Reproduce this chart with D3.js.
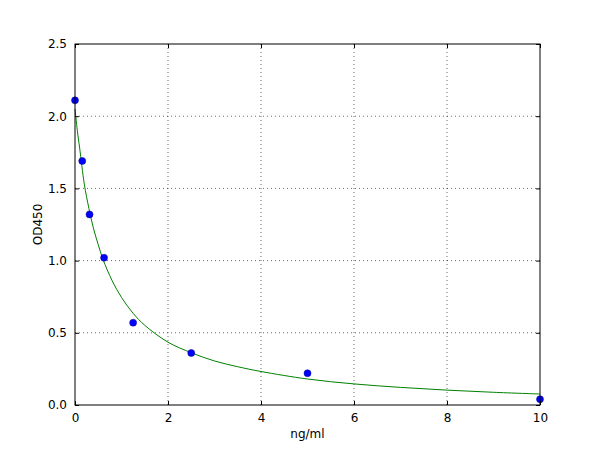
<!DOCTYPE html>
<html>
<head>
<meta charset="utf-8">
<script src="https://cdn.jsdelivr.net/npm/d3@7"></script>
<style>
  body { margin: 0; background: #fff; }
  text { font-family: "DejaVu Sans", sans-serif; }
</style>
</head>
<body>
<svg id="chart" width="600" height="450"></svg>
<script>
// standards measured
const concX = [0, 0.156, 0.3125, 0.625, 1.25, 2.5, 5, 10];
const odY = [2.11, 1.69, 1.32, 1.02, 0.57, 0.36, 0.22, 0.04];

// fitted curve
const fitX = [0, 0.05, 0.1, 0.2, 0.3, 0.4, 0.5, 0.6, 0.8, 1.0, 1.25, 1.5, 2, 2.5, 3, 3.5, 4, 5, 6, 7, 8, 9, 10];
const fitY = [2.05, 1.90, 1.78, 1.53, 1.36, 1.22, 1.11, 1.01, 0.86, 0.745, 0.635, 0.552, 0.435, 0.362, 0.305, 0.265, 0.232, 0.18, 0.146, 0.122, 0.103, 0.088, 0.076];

const xTicks = [0, 2, 4, 6, 8, 10];
const yTicks = [0, 0.5, 1.0, 1.5, 2.0, 2.5];

const svg = d3.select("#chart");
const m = { left: 75, right: 60, top: 44, bottom: 45 };
const W = 600, H = 450;

const x = d3.scaleLinear().domain([0, 10]).range([m.left, W - m.right]);
const y = d3.scaleLinear().domain([0, 2.5]).range([H - m.bottom, m.top]);

// grid
const grid = svg.append("g");
grid.selectAll(".gx").data(xTicks.slice(1, -1)).enter().append("line")
    .attr("x1", d => x(d)).attr("x2", d => x(d))
    .attr("y1", y(0)).attr("y2", y(2.5))
    .attr("stroke", "#000").attr("stroke-width", 0.6).attr("stroke-dasharray", "1,3");
grid.selectAll(".gy").data(yTicks.slice(1, -1)).enter().append("line")
    .attr("x1", x(0)).attr("x2", x(10))
    .attr("y1", d => y(d)).attr("y2", d => y(d))
    .attr("stroke", "#000").attr("stroke-width", 0.6).attr("stroke-dasharray", "1,3");

// curve
const line = d3.line().x(d => x(d[0])).y(d => y(d[1])).curve(d3.curveCatmullRom);
svg.append("path")
    .datum(fitX.map((v, i) => [v, fitY[i]]))
    .attr("d", line).attr("fill", "none")
    .attr("stroke", "#008000").attr("stroke-width", 1);

// points
svg.append("g").selectAll("circle")
    .data(concX.map((v, i) => [v, odY[i]]))
    .enter().append("circle")
    .attr("cx", d => x(d[0])).attr("cy", d => y(d[1])).attr("r", 3.5)
    .attr("fill", "#0000ff").attr("stroke", "#00008b").attr("stroke-width", 0.5);

// axes, ticks inward
const fmtY = d3.format(".1f");
const axB = svg.append("g").attr("transform", `translate(0,${y(0)})`)
    .call(d3.axisBottom(x).tickValues(xTicks).tickSizeInner(-4).tickSizeOuter(0).tickPadding(8).tickFormat(d3.format("d")));
const axT = svg.append("g").attr("transform", `translate(0,${y(2.5)})`)
    .call(d3.axisTop(x).tickValues(xTicks).tickSizeInner(-4).tickSizeOuter(0).tickFormat(""));
const axL = svg.append("g").attr("transform", `translate(${x(0)},0)`)
    .call(d3.axisLeft(y).tickValues(yTicks).tickSizeInner(-4).tickSizeOuter(0).tickPadding(8).tickFormat(fmtY));
const axR = svg.append("g").attr("transform", `translate(${x(10)},0)`)
    .call(d3.axisRight(y).tickValues(yTicks).tickSizeInner(-4).tickSizeOuter(0).tickFormat(""));
[axB, axT, axL, axR].forEach(a => {
    a.select(".domain").remove();
    a.selectAll("text").attr("font-size", 12).attr("fill", "#000").attr("font-family", "DejaVu Sans, sans-serif");
});

// frame
svg.append("rect")
    .attr("x", x(0)).attr("y", y(2.5))
    .attr("width", x(10) - x(0)).attr("height", y(0) - y(2.5))
    .attr("fill", "none").attr("stroke", "#000").attr("stroke-width", 1);

// labels
svg.append("text").attr("x", (x(0) + x(10)) / 2).attr("y", 438)
    .attr("text-anchor", "middle").attr("font-size", 12).text("ng/ml");
svg.append("text").attr("transform", `translate(42,${(y(0) + y(2.5)) / 2}) rotate(-90)`)
    .attr("text-anchor", "middle").attr("font-size", 12).text("OD450");
</script>
</body>
</html>
